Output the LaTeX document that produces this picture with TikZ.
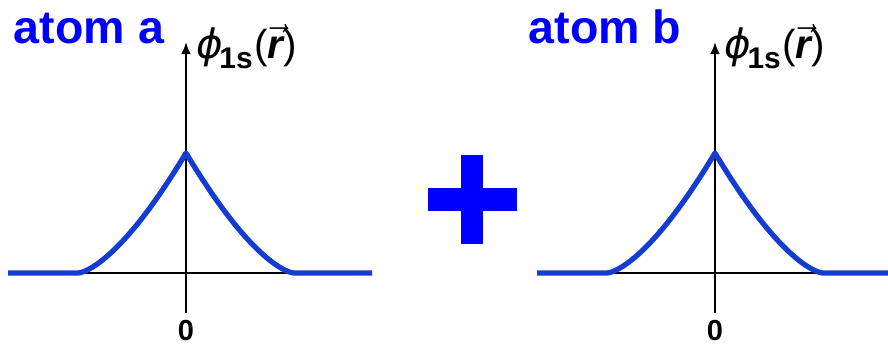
\documentclass[tikz,border=0pt]{standalone}
\usepackage{fontspec}
\setmainfont{Liberation Sans}
\newfontfamily\phifont{DejaVu Sans}
\usetikzlibrary{arrows.meta,positioning}
\definecolor{atomblue}{RGB}{0,0,255}
\definecolor{orbblue}{RGB}{20,60,210}

\begin{document}
\begin{tikzpicture}[
    x=0.2mm, y=-0.2mm,
    every node/.style={inner sep=0pt},
    title/.style={font=\fontsize{26.5}{26.5}\selectfont\bfseries, text=atomblue},
    zerolbl/.style={font=\fontsize{16.5}{16.5}\selectfont\bfseries},
    philbl/.style={font=\fontsize{23}{23}\selectfont},
    axis/.style={line width=1.7pt, black},
    yaxis/.style={axis, -{Latex[length=2.4mm,width=2mm]}},
    orbital/.style={line width=3pt, orbblue, line join=round}
]
\useasboundingbox (0,0) rectangle (888,345);

% atom a
\coordinate (lefta) at (8,273);
\coordinate (righta) at (372,273);
\coordinate (bota) at (186,313);
\coordinate (topa) at (186,42);
\node[title, anchor=base] (titlea) at (89,43) {atom a};
\node[zerolbl, anchor=base] (zeroa) at (186,340) {0};
\node[philbl, anchor=base west] (phia) at (196,58) {{\phifont\itshape ϕ}\kern-2pt\raisebox{-6pt}{\fontsize{17}{17}\selectfont\bfseries 1s}\kern1pt(\ensuremath{\vec{\hbox{\bfseries\itshape r}}})};

\draw[axis] (lefta) -- (righta);
\draw[yaxis] (bota) -- (topa);
\draw[orbital] (lefta) -- plot[domain=-1:1, samples=101] ({186+108*\x},{273-120*(1-abs(\x))*sqrt(abs(1-abs(\x)))}) -- (righta);

% plus
\fill[atomblue] (461,155) rectangle (483,244);
\fill[atomblue] (428,188) rectangle (517,211);

% atom b
\coordinate (leftb) at (537,273);
\coordinate (rightb) at (888,273);
\coordinate (botb) at (715,313);
\coordinate (topb) at (715,42);
\node[title, anchor=base] (titleb) at (605,43) {atom b};
\node[zerolbl, anchor=base] (zerob) at (715,340) {0};
\node[philbl, anchor=base west] (phib) at (724,58) {{\phifont\itshape ϕ}\kern-2pt\raisebox{-6pt}{\fontsize{17}{17}\selectfont\bfseries 1s}\kern1pt(\ensuremath{\vec{\hbox{\bfseries\itshape r}}})};

\draw[axis] (leftb) -- (rightb);
\draw[yaxis] (botb) -- (topb);
\draw[orbital] (leftb) -- plot[domain=-1:1, samples=101] ({715+108*\x},{273-120*(1-abs(\x))*sqrt(abs(1-abs(\x)))}) -- (rightb);

\end{tikzpicture}
\end{document}
